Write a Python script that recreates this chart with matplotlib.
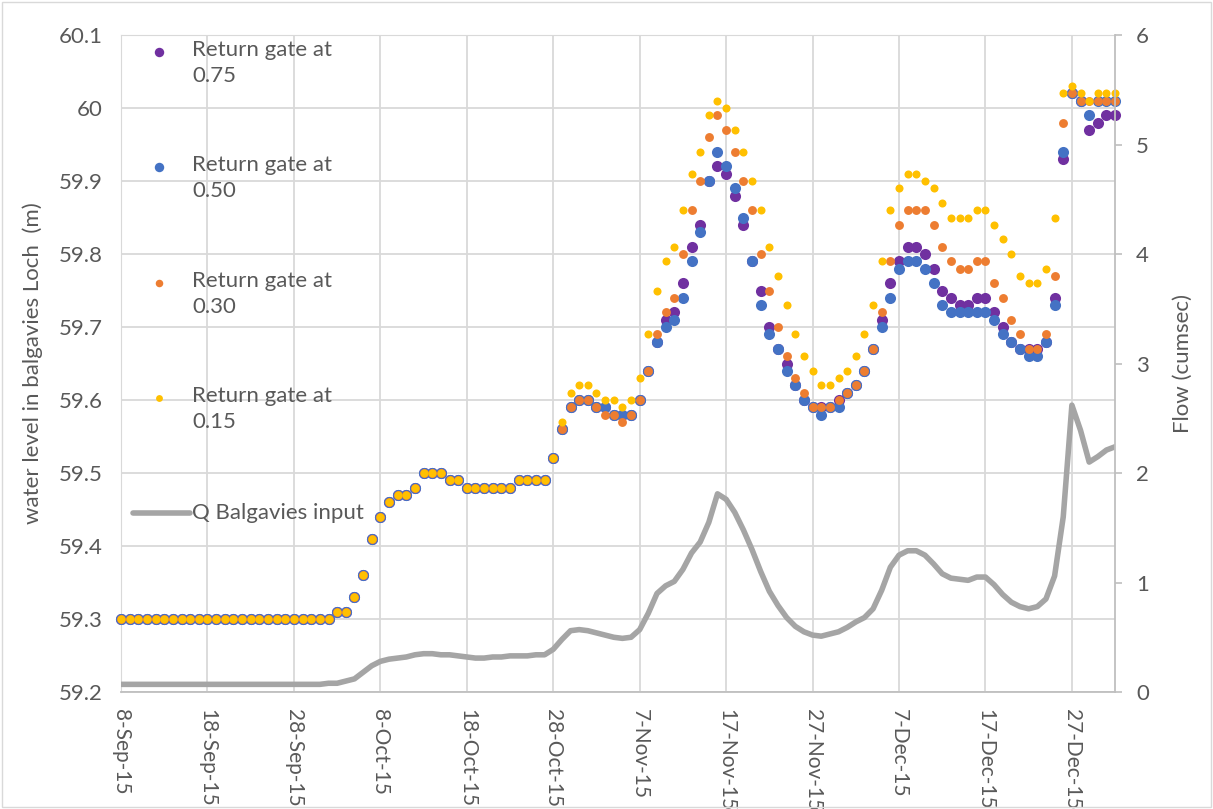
import pandas as pd
import matplotlib
matplotlib.use("Agg")
import matplotlib.pyplot as plt
from matplotlib.patches import Rectangle

plt.rcParams['font.family'] = ['Lato', 'DejaVu Sans']

# daily values, 8-Sep-15 .. 1-Jan-16
dates = pd.date_range("2015-09-08", "2016-01-01", freq="D")

# loch level identical for every gate setting up to 28-Oct
level_common = [
    59.30, 59.30, 59.30, 59.30, 59.30, 59.30, 59.30, 59.30, 59.30, 59.30,
    59.30, 59.30, 59.30, 59.30, 59.30, 59.30, 59.30, 59.30, 59.30, 59.30,
    59.30, 59.30, 59.30, 59.30, 59.30, 59.31, 59.31, 59.33, 59.36, 59.41,
    59.44, 59.46, 59.47, 59.47, 59.48, 59.50, 59.50, 59.50, 59.49, 59.49,
    59.48, 59.48, 59.48, 59.48, 59.48, 59.48, 59.49, 59.49, 59.49, 59.49,
    59.52,
]

gate_075 = level_common + [
    59.56, 59.59, 59.60, 59.60, 59.59, 59.59, 59.58, 59.58, 59.58, 59.60,
    59.64, 59.68, 59.71, 59.72, 59.76, 59.81, 59.84, 59.90, 59.92, 59.91,
    59.88, 59.84, 59.79, 59.75, 59.70, 59.67, 59.65, 59.62, 59.60, 59.59,
    59.59, 59.59, 59.60, 59.61, 59.62, 59.64, 59.67, 59.71, 59.76, 59.79,
    59.81, 59.81, 59.80, 59.78, 59.75, 59.74, 59.73, 59.73, 59.74, 59.74,
    59.72, 59.70, 59.68, 59.67, 59.67, 59.67, 59.68, 59.74, 59.93, 60.02,
    60.01, 59.97, 59.98, 59.99, 59.99,
]

gate_050 = level_common + [
    59.56, 59.59, 59.60, 59.60, 59.59, 59.59, 59.58, 59.58, 59.58, 59.60,
    59.64, 59.68, 59.70, 59.71, 59.74, 59.79, 59.83, 59.90, 59.94, 59.92,
    59.89, 59.85, 59.79, 59.73, 59.69, 59.67, 59.64, 59.62, 59.60, 59.59,
    59.58, 59.59, 59.59, 59.61, 59.62, 59.64, 59.67, 59.70, 59.74, 59.78,
    59.79, 59.79, 59.78, 59.76, 59.73, 59.72, 59.72, 59.72, 59.72, 59.72,
    59.71, 59.69, 59.68, 59.67, 59.66, 59.66, 59.68, 59.73, 59.94, 60.02,
    60.01, 59.99, 60.01, 60.01, 60.01,
]

gate_030 = level_common + [
    59.56, 59.59, 59.60, 59.60, 59.59, 59.58, 59.58, 59.57, 59.58, 59.60,
    59.64, 59.69, 59.72, 59.74, 59.80, 59.86, 59.90, 59.96, 59.99, 59.97,
    59.94, 59.90, 59.86, 59.80, 59.75, 59.70, 59.66, 59.63, 59.61, 59.59,
    59.59, 59.59, 59.60, 59.61, 59.62, 59.64, 59.67, 59.72, 59.79, 59.84,
    59.86, 59.86, 59.86, 59.84, 59.81, 59.79, 59.78, 59.78, 59.79, 59.79,
    59.76, 59.74, 59.71, 59.69, 59.67, 59.67, 59.69, 59.77, 59.98, 60.02,
    60.01, 60.01, 60.01, 60.01, 60.01,
]

gate_015 = level_common + [
    59.57, 59.61, 59.62, 59.62, 59.61, 59.60, 59.60, 59.59, 59.60, 59.63,
    59.69, 59.75, 59.79, 59.81, 59.86, 59.91, 59.94, 59.99, 60.01, 60.00,
    59.97, 59.94, 59.90, 59.86, 59.81, 59.77, 59.73, 59.69, 59.66, 59.64,
    59.62, 59.62, 59.63, 59.64, 59.66, 59.69, 59.73, 59.79, 59.86, 59.89,
    59.91, 59.91, 59.90, 59.89, 59.87, 59.85, 59.85, 59.85, 59.86, 59.86,
    59.84, 59.82, 59.80, 59.77, 59.76, 59.76, 59.78, 59.85, 60.02, 60.03,
    60.02, 60.01, 60.02, 60.02, 60.02,
]

# Q Balgavies input (cumsec)
q_input = [
    0.07, 0.07, 0.07, 0.07, 0.07, 0.07, 0.07, 0.07, 0.07, 0.07,
    0.07, 0.07, 0.07, 0.07, 0.07, 0.07, 0.07, 0.07, 0.07, 0.07,
    0.07, 0.07, 0.07, 0.07, 0.08, 0.08, 0.10, 0.12, 0.18, 0.24,
    0.28, 0.30, 0.31, 0.32, 0.34, 0.35, 0.35, 0.34, 0.34, 0.33,
    0.32, 0.31, 0.31, 0.32, 0.32, 0.33, 0.33, 0.33, 0.34, 0.34,
    0.39, 0.48, 0.56, 0.57, 0.56, 0.54, 0.52, 0.50, 0.49, 0.50,
    0.57, 0.72, 0.90, 0.97, 1.01, 1.12, 1.27, 1.37, 1.55, 1.81,
    1.76, 1.64, 1.48, 1.30, 1.10, 0.92, 0.79, 0.68, 0.60, 0.55,
    0.52, 0.51, 0.53, 0.55, 0.59, 0.64, 0.68, 0.76, 0.93, 1.14,
    1.25, 1.29, 1.29, 1.25, 1.17, 1.08, 1.04, 1.03, 1.02, 1.05,
    1.05, 0.98, 0.89, 0.82, 0.78, 0.76, 0.78, 0.85, 1.06, 1.60,
    2.62, 2.39, 2.10, 2.15, 2.21, 2.24,
]

series = [
    ("Return gate at\n0.75", gate_075, "#7030A0", 8.0),
    ("Return gate at\n0.50", gate_050, "#4472C4", 8.0),
    ("Return gate at\n0.30", gate_030, "#ED7D31", 6.4),
    ("Return gate at\n0.15", gate_015, "#FFC000", 5.8),
]

text_col = "#595959"
grid_col = "#D9D9D9"
axis_col = "#BFBFBF"
fs = 16

fig = plt.figure(figsize=(12.13, 8.09), dpi=100)
fig.patches.append(Rectangle((0.002, 0.002), 0.996, 0.996, transform=fig.transFigure,
                             fill=False, edgecolor=grid_col, lw=1))
ax = fig.add_axes([0.0998, 0.1446, 0.8195, 0.8121])
ax2 = ax.twinx()

for label, vals, col, ms in series:
    ax.plot(dates, vals, linestyle="none", marker="o", markersize=ms,
            markeredgewidth=0, color=col, clip_on=False, zorder=3)

ax2.plot(dates, q_input, color="#A5A5A5", lw=4, solid_capstyle="round")

# axes ranges and ticks
ax.set_xlim(dates[0], dates[-1])
ax.set_ylim(59.2, 60.1)
yt = [59.2, 59.3, 59.4, 59.5, 59.6, 59.7, 59.8, 59.9, 60.0, 60.1]
ax.set_yticks(yt)
ax.set_yticklabels([f"{v:g}" for v in yt])
ax2.set_ylim(0, 6)
ax2.set_yticks([0, 1, 2, 3, 4, 5, 6])

xt = dates[::10]
ax.set_xticks(xt)
ax.set_xticklabels([f"{d.day}-{d.strftime('%b-%y')}" for d in xt],
                   rotation=270, va="top", ha="center")

ax.grid(True, color=grid_col, lw=1.3)
ax.set_axisbelow(True)

ax.tick_params(axis="y", length=0, labelsize=fs, colors=text_col, pad=13)
ax.tick_params(axis="x", length=0, labelsize=15, colors=text_col, pad=12)
ax2.tick_params(axis="y", length=5, width=1.2, color=axis_col, labelsize=fs,
                labelcolor=text_col, pad=10)

for sp in ["left", "top"]:
    ax.spines[sp].set_color(grid_col)
    ax2.spines[sp].set_visible(False)
ax.spines["right"].set_visible(False)
ax.spines["bottom"].set_color(axis_col)
ax.spines["bottom"].set_linewidth(1.3)
ax2.spines["bottom"].set_visible(False)
ax2.spines["right"].set_color(axis_col)
ax2.spines["right"].set_linewidth(1.3)

ax.set_ylabel("water level in balgavies Loch  (m)", fontsize=fs, color=text_col)
ax.yaxis.set_label_coords(-0.079, 0.5)
ax2.set_ylabel("Flow (cumsec)", fontsize=fs, color=text_col)
ax2.yaxis.set_label_coords(1.058, 0.5)

# legend laid out like the spreadsheet one: marker beside first text line
entry_y = [0.974, 0.799, 0.6225, 0.4475]
for (label, vals, col, ms), ey in zip(series, entry_y):
    ax2.plot([0.038], [ey], marker="o", markersize=ms * 0.85, markeredgewidth=0,
             color=col, transform=ax.transAxes, clip_on=False)
    ax2.text(0.0714, ey + 0.019, label, transform=ax.transAxes, va="top", ha="left",
             fontsize=fs, color=text_col, linespacing=1.4)
ax2.plot([0.012, 0.069], [0.2725, 0.2725], color="#A5A5A5", lw=4,
         solid_capstyle="round", transform=ax.transAxes)
ax2.text(0.0714, 0.2725, "Q Balgavies input", transform=ax.transAxes,
         va="center", ha="left", fontsize=fs, color=text_col)

fig.savefig("out.png", dpi=100)
